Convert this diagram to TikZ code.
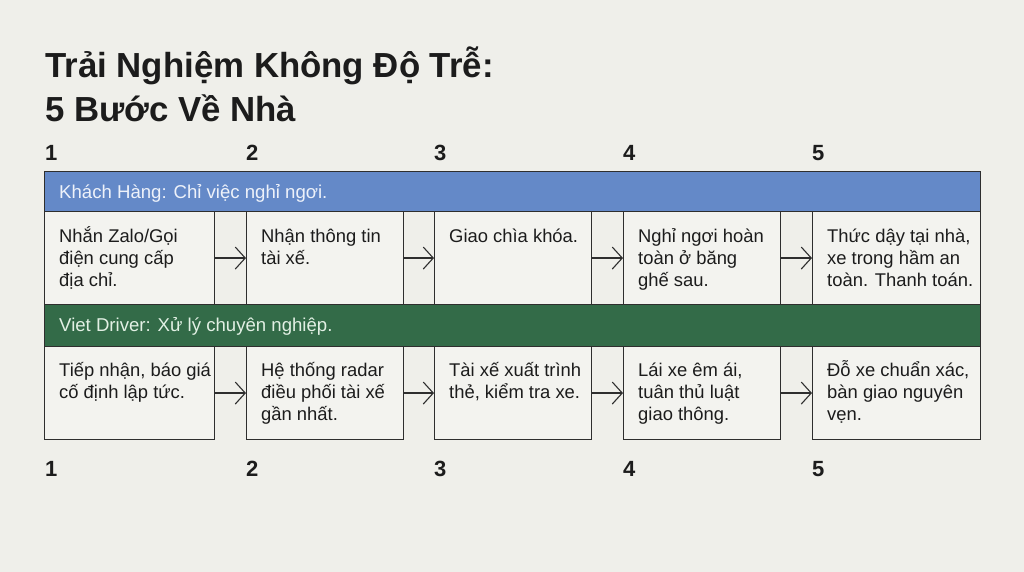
\documentclass[tikz,border=0pt]{standalone}
\usepackage{fontspec}
\setmainfont{Liberation Sans}
\usetikzlibrary{arrows.meta}
\definecolor{bgpaper}{HTML}{EFEFEA}
\definecolor{boxfill}{HTML}{F3F3EF}
\definecolor{inkdark}{HTML}{1C1C1C}
\definecolor{linegray}{HTML}{2E2E2E}
\definecolor{bandblue}{HTML}{6489C8}
\definecolor{bandgreen}{HTML}{336B48}
\definecolor{bluetext}{HTML}{EEF2FA}
\definecolor{greentext}{HTML}{E2F0E4}
\begin{document}
\begin{tikzpicture}[x=1pt, y=1pt,
  stepbox/.style={draw=linegray, fill=boxfill, line width=1.1pt, minimum width=#1, minimum height=93pt, anchor=north west, inner sep=0pt},
  bandbox/.style={draw=linegray, line width=1.1pt, minimum width=936pt, anchor=north west, inner sep=0pt},
  steptext/.style={anchor=base west, align=left, inner sep=0pt, text=inkdark, font=\fontsize{18.4}{21.6}\selectfont},
  bandtext/.style={anchor=base west, inner sep=0pt, font=\fontsize{18.6}{22}\selectfont},
  stepnum/.style={anchor=base west, inner sep=0pt, text=inkdark, font=\bfseries\fontsize{22}{22}\selectfont},
  titletext/.style={anchor=base west, inner sep=0pt, text=inkdark, font=\bfseries\fontsize{34.8}{46}\selectfont},
  flowarrow/.style={draw=linegray, line width=1.1pt, -{Straight Barb[length=10pt, width=22pt]}}]
\fill[bgpaper] (0,0) rectangle (1024,572);
\useasboundingbox (0,0) rectangle (1024,572);
% title
\node[titletext] (title1) at (45,494) {Trải Nghiệm Không Độ Trễ:};
\node[titletext] (title2) at (45,450) {5 Bước Về Nhà};
% step numbers
\node[stepnum] (ntop1) at (45,411) {1};
\node[stepnum] (ntop2) at (246,411) {2};
\node[stepnum] (ntop3) at (434,411) {3};
\node[stepnum] (ntop4) at (623,411) {4};
\node[stepnum] (ntop5) at (812,411) {5};
% khach hang
\node[bandbox, fill=bandblue, minimum height=40pt] (kband) at (44,401) {};
\node[bandtext, text=bluetext] (kbandt) at (59,373) {Khách Hàng: Chỉ việc nghỉ ngơi.};
\node[stepbox=170pt] (k1) at (44,361) {};
\node[stepbox=157pt] (k2) at (246,361) {};
\node[stepbox=157pt] (k3) at (434,361) {};
\node[stepbox=157pt] (k4) at (623,361) {};
\node[stepbox=168pt] (k5) at (812,361) {};
% base anchor sits on the last line
\node[steptext] (k1t) at ([shift={(15,-75.2)}]k1.north west) {Nhắn Zalo/Gọi\\điện cung cấp\\địa chỉ.};
\node[steptext] (k2t) at ([shift={(15,-53.6)}]k2.north west) {Nhận thông tin\\tài xế.};
\node[steptext] (k3t) at ([shift={(15,-32)}]k3.north west) {Giao chìa khóa.};
\node[steptext] (k4t) at ([shift={(15,-75.2)}]k4.north west) {Nghỉ ngơi hoàn\\toàn ở băng\\ghế sau.};
\node[steptext] (k5t) at ([shift={(15,-75.2)}]k5.north west) {Thức dậy tại nhà,\\xe trong hầm an\\toàn. Thanh toán.};
\draw[flowarrow] (k1.east) -- (k2.west);
\draw[flowarrow] (k2.east) -- (k3.west);
\draw[flowarrow] (k3.east) -- (k4.west);
\draw[flowarrow] (k4.east) -- (k5.west);
% viet driver
\node[bandbox, fill=bandgreen, minimum height=42pt] (vband) at (44,268) {};
\node[bandtext, text=greentext] (vbandt) at (59,240) {Viet Driver: Xử lý chuyên nghiệp.};
\node[stepbox=170pt] (v1) at (44,226) {};
\node[stepbox=157pt] (v2) at (246,226) {};
\node[stepbox=157pt] (v3) at (434,226) {};
\node[stepbox=157pt] (v4) at (623,226) {};
\node[stepbox=168pt] (v5) at (812,226) {};
\node[steptext] (v1t) at ([shift={(15,-52.6)}]v1.north west) {Tiếp nhận, báo giá\\cố định lập tức.};
\node[steptext] (v2t) at ([shift={(15,-74.2)}]v2.north west) {Hệ thống radar\\điều phối tài xế\\gần nhất.};
\node[steptext] (v3t) at ([shift={(15,-52.6)}]v3.north west) {Tài xế xuất trình\\thẻ, kiểm tra xe.};
\node[steptext] (v4t) at ([shift={(15,-74.2)}]v4.north west) {Lái xe êm ái,\\tuân thủ luật\\giao thông.};
\node[steptext] (v5t) at ([shift={(15,-74.2)}]v5.north west) {Đỗ xe chuẩn xác,\\bàn giao nguyên\\vẹn.};
\draw[flowarrow] (v1.east) -- (v2.west);
\draw[flowarrow] (v2.east) -- (v3.west);
\draw[flowarrow] (v3.east) -- (v4.west);
\draw[flowarrow] (v4.east) -- (v5.west);
% bottom numbers
\node[stepnum] (nbot1) at (45,95.5) {1};
\node[stepnum] (nbot2) at (246,95.5) {2};
\node[stepnum] (nbot3) at (434,95.5) {3};
\node[stepnum] (nbot4) at (623,95.5) {4};
\node[stepnum] (nbot5) at (812,95.5) {5};
\end{tikzpicture}
\end{document}
